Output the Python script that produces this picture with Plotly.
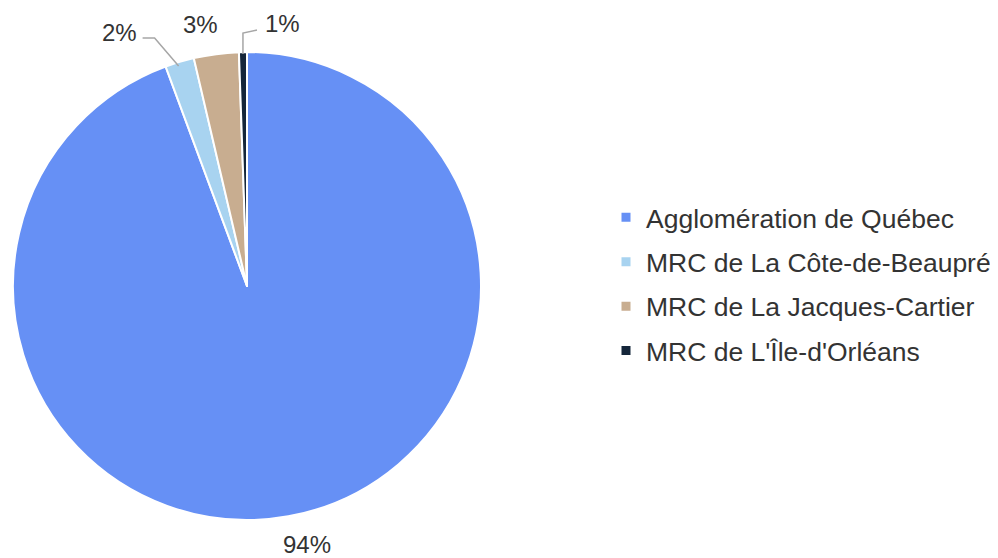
import math
import plotly.graph_objects as go

labels = ["Agglomération de Québec", "MRC de La Côte-de-Beaupré",
          "MRC de La Jacques-Cartier", "MRC de L'Île-d'Orléans"]
values = [94.35, 2.0, 3.1, 0.55]
colors = ["#6690F5", "#A8D3F0", "#C8AD90", "#15263A"]

# page body has an 8px margin: figure drawn at (8, 8) on screen
OFF = 8
W, H = 990, 550
CX, CY, R = 247, 286, 234  # pie centre / radius in screen pixels (layout)


def px(x, y):
    """screen pixel -> paper coordinates"""
    return (x - OFF) / W, 1 - (y - OFF) / H


fig = go.Figure()
x0, y0 = px(CX - R, CY + R)
x1, y1 = px(CX + R, CY - R)
fig.add_trace(go.Pie(
    labels=labels,
    values=values,
    sort=False,
    direction="clockwise",
    rotation=0,
    marker=dict(colors=colors, line=dict(color="white", width=2)),
    textinfo="none",
    showlegend=False,
    domain=dict(x=[x0, x1], y=[y0, y1]),
    hoverinfo="label+percent",
))

# legend entries
for lab, col in zip(labels, colors):
    fig.add_trace(go.Scatter(
        x=[None], y=[None], mode="markers", name=lab,
        marker=dict(symbol="square", size=9, color=col),
        legendgroup=lab, showlegend=True,
    ))

# label placement (pixel offsets from slice mid-point on the rim)
offsets = [(19, 28), (-60, -29), (-16, -30), (40, -29)]
total = sum(values)
cum = 0
annotations = []
shapes = []
for i, v in enumerate(values):
    mid = (cum + v / 2) / total
    cum += v
    ang = 2 * math.pi * mid
    ax_ = CX + R * math.sin(ang)
    ay_ = CY - R * math.cos(ang)
    dx, dy = offsets[i]
    x, y = px(ax_ + dx, ay_ + dy)
    annotations.append(dict(
        x=x, y=y, xref="paper", yref="paper", showarrow=False,
        text=f"{round(v / total * 100)}%",
        font=dict(size=24, color="#333333", family="Liberation Sans, Arial"),
        xanchor="center", yanchor="middle",
    ))
    if i == 1:
        pts = [(ax_ - 1, ay_ + 4), (ax_ - 25, ay_ - 24), (ax_ - 37, ay_ - 24)]
    elif i == 3:
        pts = [(ax_, ay_ + 2), (ax_, ay_ - 19), (ax_ + 14, ay_ - 22)]
    else:
        pts = None
    if pts:
        path = "M " + " L ".join(f"{px(a, b)[0]},{px(a, b)[1]}" for a, b in pts)
        shapes.append(dict(type="path", xref="paper", yref="paper", path=path,
                           line=dict(color="#A6A6A6", width=1.5)))

lx, ly = px(606, 284)
fig.update_layout(
    width=W, height=H,
    margin=dict(l=0, r=0, t=0, b=0),
    paper_bgcolor="white",
    plot_bgcolor="white",
    font=dict(family="Liberation Sans, Arial", color="#333333"),
    xaxis=dict(visible=False),
    yaxis=dict(visible=False),
    annotations=annotations,
    shapes=shapes,
    legend=dict(
        x=lx, y=ly, xanchor="left", yanchor="middle",
        font=dict(size=26.5, color="#333333"),
        tracegroupgap=7, itemwidth=30, bgcolor="rgba(0,0,0,0)",
    ),
)

fig.write_html("out.html")
